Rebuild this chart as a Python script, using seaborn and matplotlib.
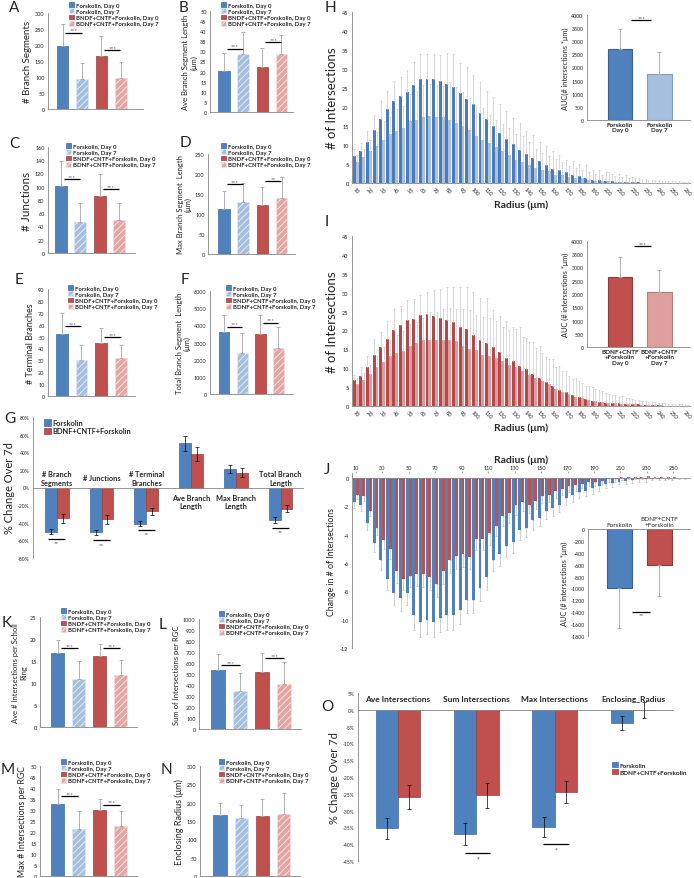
import matplotlib
matplotlib.use("Agg")
import matplotlib.pyplot as plt
from matplotlib.ticker import PercentFormatter
import numpy as np
import pandas as pd
import seaborn as sns

W, H = 694, 879

BLUE = "#4F81BD"
BLUE_EDGE = "#3C6AA5"
BLUE_LIGHT = "#A7BFDF"
BLUE_HATCH = "#E1E9F4"
RED = "#C0504D"
RED_EDGE = "#983E3C"
PINK = "#E2A6A5"
PINK_HATCH = "#F7E0DF"
ERR_GREY = "#A5A5A5"
AXIS_GREY = "#868686"

GROUPS = [
    "Forskolin, Day 0",
    "Forskolin, Day 7",
    "BNDF+CNTF+Forskolin, Day 0",
    "BDNF+CNTF+Forskolin, Day 7",
]
FOUR_FACE = [BLUE, BLUE_LIGHT, RED, PINK]
FOUR_EDGE = [BLUE_EDGE, BLUE_HATCH, RED_EDGE, PINK_HATCH]
FOUR_HATCH = ["", "/////", "", "/////"]

# ---- morphology panels: bar means and the upper end of each error bar
branch_segments = [196, 94, 167, 98]
branch_segments_upper = [267, 145, 229, 147]
ave_branch_length = [20.5, 28.7, 22.3, 28.8]
ave_branch_length_upper = [29.2, 39.8, 31.8, 38.3]
junctions = [101, 47, 86, 50]
junctions_upper = [139, 75, 120, 75]
max_branch_length = [113, 130, 123, 139]
max_branch_length_upper = [158, 177, 167, 192]
terminal_branches = [52.5, 30, 45, 31.7]
terminal_branches_upper = [69.4, 42.7, 56.8, 43.2]
total_branch_length = [3640, 2386, 3470, 2676]
total_branch_length_upper = [4608, 3546, 4590, 3932]

# ---- Sholl summary panels
ave_intersections = [16.8, 10.9, 16.1, 11.8]
ave_intersections_upper = [19.8, 14.9, 18.8, 15.2]
sum_intersections = [535, 345, 520, 410]
sum_intersections_upper = [680, 510, 695, 610]
max_intersections = [32.8, 21.3, 30.0, 22.7]
max_intersections_upper = [39.5, 29.5, 35.0, 29.5]
enclosing_radius = [166, 158, 165, 168]
enclosing_radius_upper = [199, 193, 210, 226]

# ---- G: % change over 7 days
CHANGE_MEASURES = ["# Branch\nSegments", "# Junctions", "# Terminal\nBranches",
                   "Ave Branch\nLength", "Max Branch\nLength", "Total Branch\nLength"]
change_forskolin = [-50, -51, -41, 50, 21, -37]
change_forskolin_err = [3, 3, 3, 9, 5, 3]
change_combo = [-35, -36, -27, 38, 17, -24]
change_combo_err = [5, 5, 4, 8, 5, 4]
change_sig_index = [0, 1, 2, 5]
change_sig_level = [-58, -60, -48, -46]

# ---- H / I / J: Sholl profiles
RADIUS = [10, 15, 20, 25, 30, 35, 40, 45, 50, 55, 60, 65, 70, 75, 80, 85, 90, 95, 100,
          105, 110, 115, 120, 125, 130, 135, 140, 145, 150, 155, 160, 165, 170, 175, 180,
          185, 190, 195, 200, 205, 210, 215, 220, 225, 230, 235, 240, 245, 250, 255, 260]

h_day0 = [7.2, 8.5, 10.9, 14.0, 16.8, 19.4, 21.5, 22.9, 24.0, 25.8, 27.3, 27.4, 27.4, 26.9,
          26.0, 25.2, 23.8, 22.1, 20.7, 18.5, 16.9, 14.9, 13.2, 11.7, 10.3, 8.8, 7.7, 6.7,
          5.8, 4.7, 3.8, 3.5, 2.8, 2.2, 1.8, 1.3, 0.9, 0.8, 0.6, 0.4, 0.3, 0.25, 0.2, 0.15,
          0.1, 0.1, 0.1, 0.05, 0.05, 0.02, 0.02]
h_day0_upper = [9.0, 10.5, 13.8, 18.0, 21.5, 24.2, 26.8, 28.0, 29.7, 31.9, 33.9, 33.9, 33.9,
                33.6, 34.2, 33.9, 31.6, 30.5, 28.4, 26.6, 24.2, 22.7, 20.8, 19.0, 17.2, 15.8,
                13.8, 12.6, 10.8, 9.7, 8.5, 7.5, 6.1, 5.9, 5.0, 4.7, 3.5, 3.3, 3.0, 2.5, 2.3,
                2.0, 1.5, 1.3, 1.0, 0.9, 0.8, 0.6, 0.5, 0.4, 0.3]
h_day7 = [5.6, 6.8, 8.3, 9.8, 11.4, 12.8, 13.8, 14.6, 16.3, 16.7, 17.5, 17.7, 17.5, 17.3,
          16.7, 15.9, 14.9, 14.0, 12.5, 11.2, 10.4, 9.6, 8.3, 7.3, 6.1, 5.5, 4.8, 4.0, 3.5,
          3.2, 2.2, 2.0, 1.5, 1.3, 1.2, 0.8, 0.6, 0.5, 0.5, 0.3, 0.25, 0.2, 0.15, 0.1, 0.1,
          0.1, 0.05, 0.05, 0.03, 0.02, 0.01]
h_day7_upper = [7.5, 9.0, 11.3, 13.5, 16.2, 17.4, 19.5, 20.3, 23.3, 24.2, 25.8, 26.0, 25.8,
                25.5, 26.5, 25.2, 24.0, 22.5, 20.6, 19.8, 17.8, 16.6, 15.5, 14.5, 12.8, 12.5,
                10.8, 9.0, 8.0, 7.0, 6.2, 5.5, 4.5, 4.0, 3.5, 3.0, 2.5, 2.0, 2.8, 1.8, 1.5,
                1.3, 1.2, 1.0, 0.8, 0.7, 0.6, 0.5, 0.4, 0.3, 0.2]

i_day0 = [6.8, 8.0, 10.4, 13.4, 15.6, 17.7, 20.1, 21.4, 22.7, 23.0, 24.2, 24.4, 23.8, 23.3,
          22.8, 22.2, 20.9, 20.4, 18.8, 17.4, 16.7, 15.6, 14.2, 12.8, 11.9, 10.7, 9.8, 8.5,
          7.5, 6.4, 5.3, 4.3, 3.6, 2.8, 2.3, 1.8, 1.4, 1.1, 0.9, 0.8, 0.7, 0.6, 0.5, 0.4,
          0.3, 0.2, 0.15, 0.1, 0.1, 0.05, 0.05]
i_day0_upper = [8.2, 10.3, 13.2, 17.7, 19.7, 22.4, 25.6, 26.4, 28.0, 28.3, 29.3, 30.3, 30.6,
                31.0, 31.6, 31.6, 31.4, 31.6, 30.2, 28.7, 28.5, 25.4, 23.7, 22.6, 20.8, 20.8,
                18.0, 17.0, 15.8, 13.0, 12.5, 10.5, 9.3, 7.2, 6.5, 5.3, 5.0, 4.2, 3.5, 3.0,
                2.4, 2.2, 1.8, 1.5, 1.2, 1.0, 0.9, 0.7, 0.6, 0.4, 0.3]
i_day7 = [5.8, 6.9, 8.5, 10.3, 11.6, 13.2, 14.0, 14.6, 16.0, 16.6, 17.4, 17.6, 17.5, 17.4,
          17.4, 17.1, 15.8, 15.2, 14.8, 13.5, 13.2, 12.8, 11.9, 10.8, 10.3, 9.3, 8.3, 7.5,
          6.6, 5.8, 4.6, 3.8, 3.2, 2.5, 2.0, 1.7, 1.4, 1.1, 0.8, 0.7, 0.6, 0.5, 0.4, 0.3,
          0.25, 0.2, 0.15, 0.1, 0.08, 0.05, 0.03]
i_day7_upper = [7.3, 8.7, 10.8, 13.3, 15.5, 17.6, 18.8, 19.8, 21.8, 22.3, 23.4, 24.8, 25.0,
                25.8, 25.9, 25.8, 25.6, 25.5, 24.2, 23.5, 23.2, 22.5, 20.8, 20.2, 20.5, 18.2,
                17.0, 15.3, 14.0, 12.5, 10.4, 9.2, 8.0, 7.3, 6.1, 5.2, 4.6, 4.0, 3.3, 2.8,
                2.6, 2.2, 1.6, 1.3, 1.1, 1.0, 0.8, 0.6, 0.5, 0.4, 0.3]

j_forskolin = [-1.7, -1.9, -3.2, -4.6, -5.8, -7.1, -8.1, -8.5, -8.1, -9.7, -10.2, -10.0,
               -10.2, -9.9, -9.7, -9.7, -9.3, -8.6, -8.6, -7.8, -7.0, -5.8, -5.4, -4.8,
               -4.5, -3.7, -3.5, -3.0, -2.8, -2.3, -2.1, -1.9, -1.4, -1.2, -1.0, -0.9,
               -0.7, -0.6, -0.4, -0.35, -0.25, -0.2, -0.15, -0.1, -0.1, -0.05, -0.05,
               -0.03, -0.03, -0.02, -0.01]
j_forskolin_err = [0.4, 0.4, 0.5, 0.6, 0.7, 0.8, 0.9, 0.9, 0.9, 1.0, 1.0, 1.0, 1.0, 1.0,
                   1.0, 1.0, 1.0, 0.9, 0.9, 0.9, 0.9, 0.8, 0.8, 0.8, 0.8, 0.7, 0.7, 0.7,
                   0.6, 0.6, 0.6, 0.5, 0.5, 0.5, 0.4, 0.4, 0.4, 0.3, 0.3, 0.3, 0.2, 0.2,
                   0.2, 0.15, 0.15, 0.1, 0.1, 0.1, 0.1, 0.05, 0.05]
j_combo = [-1.2, -1.3, -2.3, -3.5, -4.4, -5.0, -6.6, -7.1, -6.9, -6.8, -6.8, -7.0, -7.5,
           -6.6, -5.8, -5.5, -5.4, -5.6, -4.3, -4.3, -3.9, -3.4, -2.7, -2.5, -1.9, -1.7,
           -1.9, -1.6, -1.3, -1.2, -0.9, -0.8, -0.6, -0.5, -0.4, -0.3, -0.3, -0.2, -0.1,
           -0.05, 0.05, 0.1, 0.1, 0.1, 0.15, 0.1, 0.1, 0.05, 0.05, 0.02, 0.02]
j_combo_err = [0.3, 0.3, 0.4, 0.5, 0.6, 0.7, 0.8, 0.8, 0.8, 0.8, 0.9, 0.9, 0.9, 0.9, 0.9,
               0.9, 0.9, 0.8, 0.8, 0.8, 0.8, 0.7, 0.7, 0.7, 0.7, 0.6, 0.6, 0.6, 0.5, 0.5,
               0.5, 0.4, 0.4, 0.4, 0.3, 0.3, 0.3, 0.3, 0.2, 0.2, 0.2, 0.2, 0.15, 0.15,
               0.1, 0.1, 0.1, 0.1, 0.05, 0.05, 0.05]

# ---- AUC insets
h_auc_labels = ["Forskolin\nDay 0", "Forskolin\nDay 7"]
h_auc = [2720, 1740]
h_auc_upper = [3470, 2600]
i_auc_labels = ["BDNF+CNTF\n+Forskolin\nDay 0", "BDNF+CNTF\n+Forskolin\nDay 7"]
i_auc = [2640, 2060]
i_auc_upper = [3380, 2890]
j_auc_labels = ["Forskolin", "BDNF+CNTF\n+Forskolin"]
j_auc = [-990, -600]
j_auc_lower = [-1670, -1120]

# ---- O: % change of Sholl measures
SHOLL_MEASURES = ["Ave Intersections", "Sum Intersections", "Max Intersections", "Enclosing_Radius"]
sholl_forskolin = [-35.3, -37.0, -34.8, -3.9]
sholl_forskolin_err = [3.2, 3.3, 3.0, 2.0]
sholl_combo = [-26.0, -25.5, -24.4, -0.1]
sholl_combo_err = [3.5, 3.8, 3.3, 2.4]
sholl_sig_index = [1, 2]
sholl_sig_level = [-42.5, -40]

TREATMENTS = ["Forskolin", "BDNF+CNTF+Forskolin"]

sns.set_theme(style="white")
plt.rcParams["font.family"] = ["Lato", "DejaVu Sans"]
plt.rcParams["axes.unicode_minus"] = False
plt.rcParams["hatch.linewidth"] = 0.7

fig = plt.figure(figsize=(W / 100, H / 100), dpi=100)


def px_axes(box):
    x0, y0, x1, y1 = box
    return fig.add_axes([x0 / W, 1 - y1 / H, (x1 - x0) / W, (y1 - y0) / H])


def px_to_axes(box, xy):
    x0, y0, x1, y1 = box
    return ((xy[0] - x0) / (x1 - x0), (y1 - xy[1]) / (y1 - y0))


def excel_axes(ax, ylim, step, labelsize=4):
    ax.set_ylim(*ylim)
    ax.set_yticks(np.arange(ylim[0], ylim[1] + step * 0.5, step))
    ax.set_facecolor("none")
    for side in ("top", "right"):
        ax.spines[side].set_visible(False)
    for side in ("left", "bottom"):
        ax.spines[side].set_color(AXIS_GREY)
        ax.spines[side].set_linewidth(0.6)
    ax.tick_params(labelsize=labelsize, length=1.5, width=0.5, color=AXIS_GREY, pad=1)
    ax.set_xlabel("")


def bar_centers(ax):
    return [p.get_x() + p.get_width() / 2 for p in ax.patches]


def draw_errors(ax, centers, means, ends, color, lw=0.6, cap=1.2):
    means = np.asarray(means, float)
    ends = np.asarray(ends, float)
    lower = np.where(ends < means, means - ends, 0)
    upper = np.where(ends > means, ends - means, 0)
    ax.errorbar(centers, means, yerr=[lower, upper], fmt="none", ecolor=color,
                elinewidth=lw, capsize=cap, capthick=lw, zorder=3)


def four_bar_panel(box, xlim, means, upper, ylim, step, ylabel, ylabel_size, sig, legend_xy, width):
    ax = px_axes(box)
    df = pd.DataFrame({"group": GROUPS, "value": means})
    sns.barplot(data=df, x="group", y="value", hue="group", order=GROUPS, hue_order=GROUPS,
                palette=FOUR_FACE, width=width, errorbar=None, legend=False, saturation=1, ax=ax)
    for patch, edge, hatch in zip(ax.patches, FOUR_EDGE, FOUR_HATCH):
        patch.set_edgecolor(edge)
        patch.set_hatch(hatch)
        patch.set_linewidth(0.5)
    centers = bar_centers(ax)
    draw_errors(ax, centers, means, upper, ERR_GREY)
    for (a, b), (level, stars) in zip([(0, 1), (2, 3)], sig):
        xa, xb = centers[a] + 0.15, centers[b] - 0.02
        ax.plot([xa, xb], [level, level], color="black", lw=0.9, solid_capstyle="butt", zorder=4)
        ax.text((xa + xb) / 2, level, stars, ha="center", va="bottom", fontsize=4.5, color="#555555")
    excel_axes(ax, ylim, step)
    ax.set_xlim(*xlim)
    ax.set_xticks([])
    ax.set_ylabel(ylabel, fontsize=ylabel_size, labelpad=2)
    ax.legend(list(ax.patches), GROUPS, loc="upper left", bbox_to_anchor=px_to_axes(box, legend_xy),
              frameon=False, prop={"size": 4.3, "weight": "bold"}, handlelength=0.9,
              handleheight=0.9, labelspacing=0.12, handletextpad=0.3, borderpad=0, borderaxespad=0)
    return ax


FOUR_PANELS = [
    dict(box=(48, 14, 143, 110), xlim=(-0.75, 4.14), means=branch_segments, upper=branch_segments_upper,
         ylim=(0, 300), step=50, ylabel="# Branch Segments", ylabel_size=7,
         sig=[(239, "***"), (183, "***")], legend_xy=(69, 3), width=0.6),
    dict(box=(210, 12, 293, 113), xlim=(-0.73, 3.6), means=ave_branch_length, upper=ave_branch_length_upper,
         ylim=(0, 50), step=5, ylabel="Ave Branch Segment Length\n(\u03bcm)", ylabel_size=5.5,
         sig=[(31.4, "***"), (34.5, "***")], legend_xy=(221, 3), width=0.6),
    dict(box=(48, 148, 135, 254), xlim=(-0.66, 3.81), means=junctions, upper=junctions_upper,
         ylim=(0, 160), step=20, ylabel="# Junctions", ylabel_size=8.5,
         sig=[(112, "***"), (96, "***")], legend_xy=(66, 144), width=0.6),
    dict(box=(208, 155, 295, 255), xlim=(-0.83, 3.69), means=max_branch_length, upper=max_branch_length_upper,
         ylim=(0, 250), step=50, ylabel="Max Branch Segment  Length\n(\u03bcm)", ylabel_size=5.5,
         sig=[(175, "***"), (182, "**")], legend_xy=(221, 144), width=0.6),
    dict(box=(48, 290, 135, 397), xlim=(-0.69, 3.7), means=terminal_branches, upper=terminal_branches_upper,
         ylim=(0, 90), step=10, ylabel="# Terminal Branches", ylabel_size=6.5,
         sig=[(58.5, "***"), (49.7, "***")], legend_xy=(68, 286), width=0.6),
    dict(box=(210, 292, 293, 395), xlim=(-0.77, 3.81), means=total_branch_length, upper=total_branch_length_upper,
         ylim=(0, 6000), step=1000, ylabel="Total Branch Segment  Length\n(\u03bcm)", ylabel_size=5.5,
         sig=[(3932, "***"), (4164, "***")], legend_xy=(226, 286), width=0.6),
    dict(box=(40, 618, 137, 728), xlim=(-0.84, 3.77), means=ave_intersections, upper=ave_intersections_upper,
         ylim=(0, 25), step=5, ylabel="Ave # Intersections per Scholl\nRing", ylabel_size=5.5,
         sig=[(18.0, "***"), (18.0, "***")], legend_xy=(61, 609), width=0.62),
    dict(box=(199, 620, 301, 730), xlim=(-0.86, 3.77), means=sum_intersections, upper=sum_intersections_upper,
         ylim=(0, 1000), step=100, ylabel="Sum of Intersections per RGC", ylabel_size=5.5,
         sig=[(582, "***"), (645, "***")], legend_xy=(219, 612), width=0.62),
    dict(box=(40, 767, 137, 877), xlim=(-0.83, 3.77), means=max_intersections, upper=max_intersections_upper,
         ylim=(0, 50), step=5, ylabel="Max # Intersections per RGC", ylabel_size=6.3,
         sig=[(36.5, "***"), (32.5, "***")], legend_xy=(61, 760), width=0.62),
    dict(box=(200, 767, 300, 877), xlim=(-0.94, 3.77), means=enclosing_radius, upper=enclosing_radius_upper,
         ylim=(0, 300), step=50, ylabel="Enclosing Radius (\u03bcm)", ylabel_size=6.5,
         sig=[], legend_xy=(219, 760), width=0.62),
]

for spec in FOUR_PANELS:
    four_bar_panel(**spec)


def change_panel(box, xlim, measures, first, first_err, second, second_err, ylim, step, width,
                 colors, legend_xy, legend_size, ylabel):
    ax = px_axes(box)
    df = pd.DataFrame({
        "measure": list(measures) * 2,
        "pct": list(first) + list(second),
        "treatment": [TREATMENTS[0]] * len(measures) + [TREATMENTS[1]] * len(measures),
    })
    sns.barplot(data=df, x="measure", y="pct", hue="treatment", order=measures, hue_order=TREATMENTS,
                palette=colors, width=width, errorbar=None, legend=False, saturation=1, ax=ax)
    n = len(measures)
    for patch, edge in zip(ax.patches, [BLUE_EDGE] * n + [RED_EDGE] * n):
        patch.set_edgecolor(edge)
        patch.set_linewidth(0.5)
    ax.errorbar(bar_centers(ax), list(first) + list(second), yerr=list(first_err) + list(second_err),
                fmt="none", ecolor="black", elinewidth=0.5, capsize=1.3, capthick=0.5, zorder=3)
    excel_axes(ax, ylim, step, labelsize=3.6)
    ax.yaxis.set_major_formatter(PercentFormatter(xmax=100, decimals=0))
    ax.set_xlim(*xlim)
    ax.spines["bottom"].set_position(("data", 0))
    ax.set_xticks(np.arange(-0.5, n, 1))
    ax.tick_params(axis="x", labelbottom=False, direction="inout", length=2.5)
    ax.set_ylabel(ylabel, fontsize=8, labelpad=2)
    ax.legend([ax.patches[0], ax.patches[n]], TREATMENTS, loc="upper left",
              bbox_to_anchor=px_to_axes(box, legend_xy), frameon=False,
              prop={"size": legend_size, "weight": "bold"}, handlelength=0.9, handleheight=0.9,
              labelspacing=0.15, handletextpad=0.3, borderpad=0, borderaxespad=0)
    return ax


G_BOX = (33, 418, 303, 559)
ax_g = change_panel(G_BOX, (-0.53, 5.47), CHANGE_MEASURES, change_forskolin, change_forskolin_err,
                    change_combo, change_combo_err, (-80, 80), 20, 0.53, [BLUE, RED], (44, 420), 5.3,
                    "% Change Over 7d")
for i, (label, value) in enumerate(zip(CHANGE_MEASURES, change_forskolin)):
    ax_g.text(i, 11 if value < 0 else -16, label, ha="center", va="center", fontsize=5.3,
              fontweight="bold", linespacing=1.25)
for i, level in zip(change_sig_index, change_sig_level):
    ax_g.plot([i - 0.19, i + 0.19], [level, level], color="black", lw=0.9, solid_capstyle="butt")
    ax_g.text(i, level - 1.5, "**", ha="center", va="top", fontsize=4.5, color="#444444")

O_BOX = (358, 694, 673, 862)
ax_o = change_panel(O_BOX, (-0.51, 3.51), SHOLL_MEASURES, sholl_forskolin, sholl_forskolin_err,
                    sholl_combo, sholl_combo_err, (-45, 5), 5, 0.57, [BLUE, RED], (612, 763), 4.6,
                    "% Change Over 7d")
for i, label in enumerate(SHOLL_MEASURES):
    ax_o.text(i, 3.4, label, ha="center", va="center", fontsize=6, fontweight="bold")
for i, level in zip(sholl_sig_index, sholl_sig_level):
    ax_o.plot([i - 0.15, i + 0.18], [level, level], color="black", lw=0.9, solid_capstyle="butt")
    ax_o.text(i + 0.02, level - 0.8, "*", ha="center", va="top", fontsize=5, color="#444444")


def radius_panel(box, first, first_ends, second, second_ends, colors, err_color, ylim, step, label_every,
                 top_axis=False, ylabel="# of Intersections", ylabel_size=9.5):
    ax = px_axes(box)
    labels = [str(r) for r in RADIUS]
    n = len(labels)
    df = pd.DataFrame({"radius": labels * 2, "value": list(first) + list(second),
                       "series": ["a"] * n + ["b"] * n})
    sns.barplot(data=df, x="radius", y="value", hue="series", order=labels, hue_order=["a", "b"],
                palette=colors, width=0.88, errorbar=None, legend=False, saturation=1, ax=ax)
    for patch in ax.patches:
        patch.set_linewidth(0)
    draw_errors(ax, bar_centers(ax), list(first) + list(second), list(first_ends) + list(second_ends),
                err_color, lw=0.45, cap=0.7)
    excel_axes(ax, ylim, step)
    ax.set_xlim(-0.55, n - 0.5)
    ticks = list(range(0, n, label_every))
    ax.set_xticks(ticks)
    ax.set_xticklabels([labels[t] for t in ticks], rotation=-45, ha="center", fontsize=4)
    ax.set_ylabel(ylabel, fontsize=ylabel_size, labelpad=3)
    if top_axis:
        ax.spines["bottom"].set_position(("data", 0))
        ax.tick_params(axis="x", labelbottom=False, labeltop=True, bottom=False, top=True)
        ax.xaxis.set_label_position("top")
    ax.set_xlabel("Radius (\u03bcm)", fontsize=7.5, fontweight="bold", labelpad=2)
    return ax


radius_panel((352, 13, 690, 184), h_day0, h_day0_upper, h_day7, h_day7_upper,
             ["#4A7CB9", "#A9C0DE"], "#C4C4C4", (0, 45), 5, 2)
radius_panel((352, 237, 690, 407), i_day0, i_day0_upper, i_day7, i_day7_upper,
             ["#B5484A", "#DC9C9B"], "#C4C4C4", (0, 45), 5, 2)
j_forskolin_ends = [v - e for v, e in zip(j_forskolin, j_forskolin_err)]
j_combo_ends = [v - e for v, e in zip(j_combo, j_combo_err)]
ax_j = radius_panel((352, 474, 690, 649), j_forskolin, j_forskolin_ends, j_combo, j_combo_ends,
                    [BLUE, RED], "#B5B5B5", (-12, 0), 2, 4, top_axis=True,
                    ylabel="Change in # of Intersections", ylabel_size=6.3)
ax_j.set_ylim(-12, 0.35)


def auc_inset(box, xlim, labels, means, ends, faces, edges, ylim, step, ylabel, sig_x, sig_level,
              sig_text, top_labels=False):
    ax = px_axes(box)
    df = pd.DataFrame({"group": labels, "auc": means})
    sns.barplot(data=df, x="group", y="auc", hue="group", order=labels, hue_order=labels,
                palette=faces, width=0.62, errorbar=None, legend=False, saturation=1, ax=ax)
    for patch, edge in zip(ax.patches, edges):
        patch.set_edgecolor(edge)
        patch.set_linewidth(0.8)
    draw_errors(ax, bar_centers(ax), means, ends, ERR_GREY, lw=0.6, cap=1.2)
    excel_axes(ax, ylim, step, labelsize=3.8)
    ax.set_facecolor("white")
    ax.set_xlim(*xlim)
    ax.tick_params(axis="x", length=0, labelsize=4.6, pad=1.5)
    for t in ax.get_xticklabels():
        t.set_fontweight("bold")
        t.set_linespacing(1.1)
    if top_labels:
        ax.spines["bottom"].set_visible(False)
        ax.spines["top"].set_visible(True)
        ax.spines["top"].set_color(AXIS_GREY)
        ax.spines["top"].set_linewidth(0.6)
        ax.tick_params(axis="x", labelbottom=False, labeltop=True, bottom=False, top=False)
    ax.set_ylabel(ylabel, fontsize=5.3, labelpad=2)
    ax.plot(sig_x, [sig_level, sig_level], color="black", lw=0.9, solid_capstyle="butt")
    ax.text(sum(sig_x) / 2, sig_level, sig_text, ha="center", va="top" if top_labels else "bottom",
            fontsize=4.5, color="#444444")
    return ax


auc_inset((587, 16, 690, 121), (-0.84, 1.78), h_auc_labels, h_auc, h_auc_upper,
          [BLUE, "#A7BFDE"], ["#3A5F8F", "#7E9CC6"], (0, 4000), 500,
          "AUC(# intersections *\u03bcm)", [0.29, 0.79], 3800, "***")
auc_inset((587, 242, 690, 348), (-0.84, 1.78), i_auc_labels, i_auc, i_auc_upper,
          [RED, "#DDA09F"], ["#8E3B39", "#B97C7B"], (0, 4000), 500,
          "AUC (# intersections *\u03bcm)", [0.36, 0.79], 3800, "***")
auc_inset((588, 530, 690, 637), (-0.77, 1.76), j_auc_labels, j_auc, j_auc_lower,
          [BLUE, RED], ["#3A5F8F", "#8E3B39"], (-1800, 0), 200,
          "AUC (# intersections *\u03bcm)", [0.33, 0.77], -1400, "**", top_labels=True)

PANEL_LETTERS = [("A", 14, 8), ("B", 184, 8), ("H", 330, 8), ("C", 14, 144), ("D", 185, 143),
                 ("I", 327, 222), ("E", 19, 280), ("F", 185, 280), ("G", 10, 419),
                 ("J", 327, 470), ("K", 7, 623), ("L", 163, 625), ("O", 327, 707),
                 ("M", 8, 770), ("N", 166, 770)]
for letter, x, y in PANEL_LETTERS:
    fig.text(x / W, 1 - y / H, letter, fontsize=11, ha="center", va="center")

fig.savefig("out.png", dpi=100)
